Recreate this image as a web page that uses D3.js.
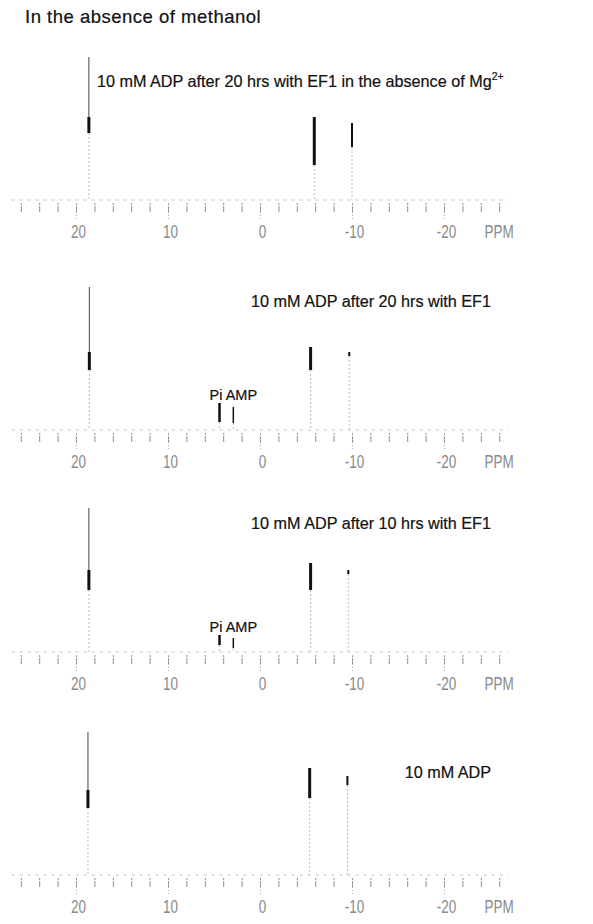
<!DOCTYPE html>
<html>
<head>
<meta charset="utf-8">
<script src="https://cdn.jsdelivr.net/npm/d3@7"></script>
<style>
  body { margin: 0; background: #fff; }
  svg { display: block; }
  .tick-label { font-family: Arial, "Liberation Sans", sans-serif; font-size: 18px; }
  .caption { font-family: Arial, "Liberation Sans", sans-serif; fill: #111; stroke: #111; stroke-width: 0.2px; }
</style>
</head>
<body>
<script>
// 31P NMR spectra, chemical shift in ppm
var tickLabels = [20, 10, 0, -10, -20];
var minorTicks = [26, 24, 22, 20, 18, 16, 14, 12, 10, 8, 6, 4, 2, 0, -2, -4, -6, -8, -10, -12, -14, -16, -18, -20, -22, -24, -26];

var spectrumLabels = [
  '10 mM ADP after 20 hrs with EF1 in the absence of Mg',
  '10 mM ADP after 20 hrs with EF1',
  '10 mM ADP after 10 hrs with EF1',
  '10 mM ADP'
];

// peaks per spectrum: reference, beta, alpha, (Pi, AMP)
var peakShift = [
  [18.6, -5.9, -10.0],
  [18.55, -5.5, -9.7, 4.4, 2.9],
  [18.6, -5.5, -9.6, 4.4, 2.9],
  [18.7, -5.4, -9.5]
];
var peakTop = [
  [143, 83, 77],
  [143, 83, 78, 27, 23],
  [144, 89, 82, 17, 14],
  [143, 107, 99]
];
var peakDarkHigh = [
  [83, 83, 77],
  [78, 83, 78, 27, 23],
  [82, 89, 82, 17, 14],
  [85, 107, 99]
];
var peakDarkLow = [
  [67, 35, 53],
  [60, 60, 74, 8, 7],
  [62, 62, 78, 7, 4],
  [67, 77, 90]
];
var peakNames = ['ref', 'beta', 'alpha', 'Pi', 'AMP'];

var width = 593, height = 924;
var baselines = [200, 430, 652, 875];
var peakWidth = { ref: 3, beta: 3, alpha: 2, Pi: 2.5, AMP: 1.5 };

var svg = d3.select('body').append('svg')
  .attr('width', width)
  .attr('height', height);

svg.append('text')
  .attr('class', 'caption')
  .attr('x', 25)
  .attr('y', 23)
  .style('font-size', '18.5px')
  .style('letter-spacing', '0.5px')
  .text('In the absence of methanol');

var x = d3.scaleLinear()
  .domain([20, -20])
  .range([76, 444]);

spectrumLabels.forEach(function (label, i) {
  var y0 = baselines[i];
  var y = d3.scaleLinear().domain([0, 150]).range([y0, y0 - 150]);
  var g = svg.append('g').attr('class', 'spectrum');

  // baseline
  g.append('line')
    .attr('x1', x(27)).attr('x2', x(-27))
    .attr('y1', y(0)).attr('y2', y(0))
    .attr('stroke', '#c4c4c4')
    .attr('stroke-dasharray', '3,5');

  // minor ticks
  var minorAxis = d3.axisBottom(x)
    .tickValues(minorTicks)
    .tickSize(9)
    .tickFormat('');
  var gMinor = g.append('g')
    .attr('transform', 'translate(0,' + (y0 + 3) + ')')
    .call(minorAxis);
  gMinor.select('.domain').remove();
  gMinor.selectAll('.tick line')
    .attr('stroke', '#8c8c8c')
    .attr('stroke-dasharray', '2,1,6');

  // major ticks and labels
  var majorAxis = d3.axisBottom(x)
    .tickValues(tickLabels)
    .tickSize(17)
    .tickPadding(5)
    .tickFormat(function (d) { return String(d); });
  var gMajor = g.append('g')
    .attr('transform', 'translate(0,' + (y0 + 3) + ')')
    .call(majorAxis);
  gMajor.select('.domain').remove();
  gMajor.selectAll('.tick line')
    .attr('stroke', '#b0b0b0')
    .attr('stroke-dasharray', '1,2');
  gMajor.selectAll('.tick text')
    .attr('class', 'tick-label')
    .attr('transform', 'translate(2,0) scale(0.75,1)')
    .attr('fill', '#8a8a8a');

  g.append('text')
    .attr('class', 'tick-label')
    .attr('transform', 'translate(' + x(-26) + ',' + (y0 + 38) + ') scale(0.75,1)')
    .attr('text-anchor', 'middle')
    .attr('fill', '#8a8a8a')
    .text('PPM');

  // peaks
  var peaks = peakShift[i].map(function (s, k) {
    return {
      name: peakNames[k],
      shift: s,
      top: peakTop[i][k],
      hi: peakDarkHigh[i][k],
      lo: peakDarkLow[i][k]
    };
  });

  var peak = g.selectAll('g.peak')
    .data(peaks)
    .enter()
    .append('g')
    .attr('class', 'peak');

  peak.append('line')
    .attr('x1', function (d) { return x(d.shift); })
    .attr('x2', function (d) { return x(d.shift); })
    .attr('y1', function (d) { return y(d.lo); })
    .attr('y2', y(0))
    .attr('stroke', '#bdbdbd')
    .attr('stroke-dasharray', '2,2');

  peak.append('line')
    .attr('x1', function (d) { return x(d.shift); })
    .attr('x2', function (d) { return x(d.shift); })
    .attr('y1', function (d) { return y(d.top); })
    .attr('y2', function (d) { return y(d.hi); })
    .attr('stroke', '#444');

  peak.append('line')
    .attr('x1', function (d) { return x(d.shift); })
    .attr('x2', function (d) { return x(d.shift); })
    .attr('y1', function (d) { return y(d.hi); })
    .attr('y2', function (d) { return y(d.lo); })
    .attr('stroke', '#111')
    .attr('stroke-width', function (d) { return peakWidth[d.name]; });

  // Pi / AMP label
  if (peaks.length > 3) {
    g.append('text')
      .attr('class', 'caption')
      .attr('x', x(peaks[3].shift) - 10)
      .attr('y', i === 1 ? y0 - 30 : y0 - 20)
      .style('font-size', '14.5px')
      .text('Pi AMP');
  }

  // spectrum label
  var t = g.append('text')
    .attr('class', 'caption')
    .style('font-size', '16.2px');
  if (i === 0) {
    t.attr('x', 97).attr('y', y0 - 113).text(label);
    t.append('tspan')
      .attr('dy', -7)
      .style('font-size', '10.5px')
      .text('2+');
  } else {
    t.attr('x', 491)
      .attr('y', i === 3 ? y0 - 97 : y0 - 123)
      .attr('text-anchor', 'end')
      .text(label);
  }
});
</script>
</body>
</html>
